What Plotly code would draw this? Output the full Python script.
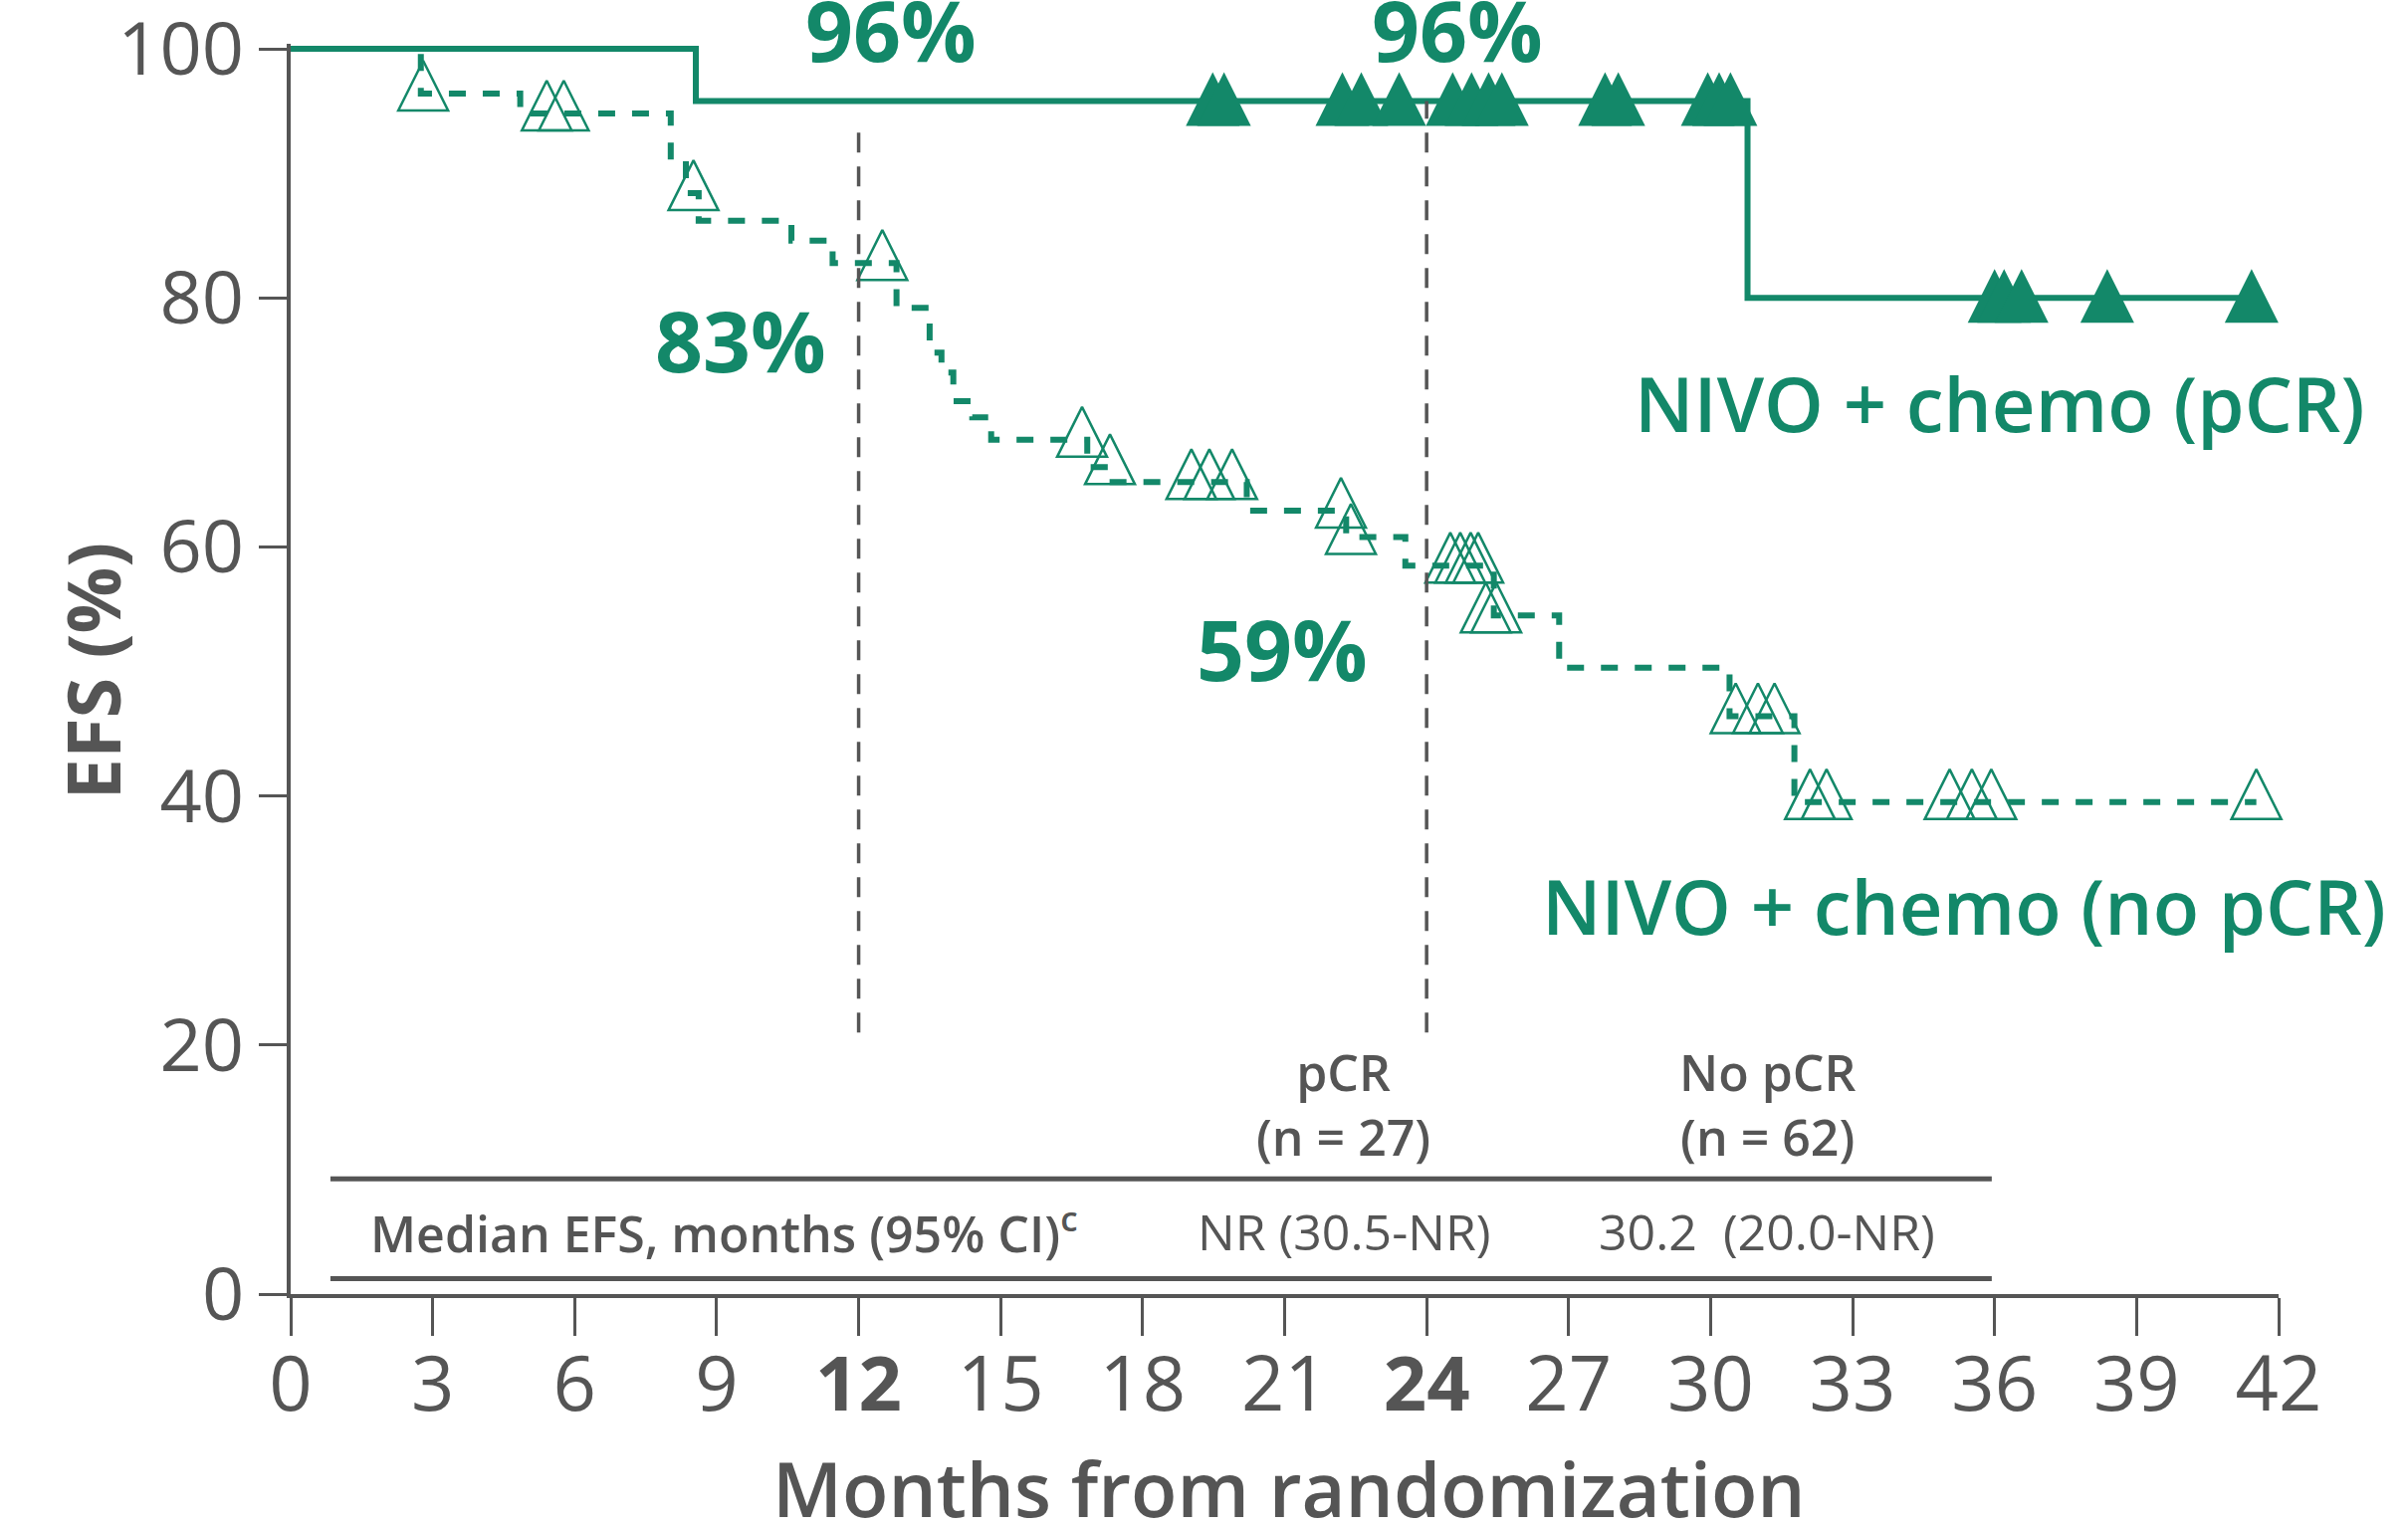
import plotly.graph_objects as go

GREEN = "#138869"
GRAY = "#555555"
FONT = "Open Sans"

# ---- data ----
# NIVO + chemo (pCR): Kaplan-Meier step points
pcr_time = [0, 8.56, 30.78, 41.6]
pcr_surv = [100, 95.8, 80.0, 80.0]
pcr_cens_time = [19.48, 19.72, 22.22, 22.62, 23.42, 24.55, 24.95, 25.31, 25.59,
                 27.77, 28.05, 29.94, 30.18, 30.42, 36.0, 36.2, 36.57, 38.38, 41.43]
pcr_cens_surv = [95.8, 95.8, 95.8, 95.8, 95.8, 95.8, 95.8, 95.8, 95.8,
                 95.8, 95.8, 95.8, 95.8, 95.8, 80.0, 80.0, 80.0, 80.0, 80.0]

# NIVO + chemo (no pCR)
nopcr_time = [0, 2.75, 4.85, 8.03, 8.35, 8.62, 10.58, 11.45, 12.8, 13.5, 13.75, 14.0,
              14.4, 14.8, 16.83, 17.2, 20.2, 22.3, 23.55, 25.42, 26.8, 30.4, 31.77, 41.53]
nopcr_surv = [100, 96.4, 94.8, 91.0, 88.4, 86.2, 84.6, 82.8, 79.2, 75.6, 74.0, 71.7,
              70.4, 68.6, 66.4, 65.2, 62.9, 60.8, 58.5, 54.5, 50.3, 46.4, 39.5, 39.5]
nopcr_cens_time = [2.8, 5.41, 5.77, 8.51, 12.5, 16.72, 17.31, 19.03, 19.41, 19.89,
                   22.19, 22.4, 24.5, 24.71, 24.93, 25.09, 25.25, 25.47, 30.53, 31.0,
                   31.35, 32.1, 32.45, 35.05, 35.52, 35.93, 41.53]
nopcr_cens_surv = [96.4, 94.8, 94.8, 88.4, 82.8, 68.6, 66.4, 65.2, 65.2, 65.2,
                   62.9, 60.8, 58.5, 58.5, 58.5, 58.5, 54.5, 54.5, 46.4, 46.4,
                   46.4, 39.5, 39.5, 39.5, 39.5, 39.5, 39.5]

# landmark reference lines
landmark_month = [12, 24]
landmark_top = [94.2, 95.8]
landmark_bottom = [21, 21]
# landmark rates inside the plot
rate_labels = ["83%", "59%"]
rate_x = [9.5, 20.95]
rate_y = [76.6, 51.8]
# landmark rates above the plot top
top_rate_labels = ["96%", "96%"]
top_rate_x = [12.68, 24.65]

# arm labels
arm_labels = ["NIVO + chemo (pCR)", "NIVO + chemo (no pCR)"]
arm_label_x = [36.1, 35.35]
arm_label_y = [71.6, 31.2]

# x ticks
x_ticks = [0, 3, 6, 9, 12, 15, 18, 21, 24, 27, 30, 33, 36, 39, 42]
x_ticktext = ["0", "3", "6", "9", "<b>12</b>", "15", "18", "21", "<b>24</b>",
              "27", "30", "33", "36", "39", "42"]
y_ticks = [0, 20, 40, 60, 80, 100]

# summary table
table_cols = ["pCR<br>(n = 27)", "No pCR<br>(n = 62)"]
table_col_x = [22.25, 31.2]
table_median = ["NR (30.5-NR)", "30.2  (20.0-NR)"]
table_row_label = "Median EFS, months (95% CI)<sup>c</sup>"
table_line_y = [9.25, 1.23]
table_line_x = [0.84, 35.94]

fig = go.Figure()

# curves
fig.add_trace(go.Scatter(x=nopcr_time, y=nopcr_surv, mode="lines", line_shape="hv",
                         line=dict(color=GREEN, width=6, dash="17px,17px"),
                         hoverinfo="skip", showlegend=False))
fig.add_trace(go.Scatter(x=pcr_time, y=pcr_surv, mode="lines", line_shape="hv",
                         line=dict(color=GREEN, width=6),
                         hoverinfo="skip", showlegend=False))

# censor marks (upward triangles)
fig.add_trace(go.Scatter(x=nopcr_cens_time, y=nopcr_cens_surv, mode="markers",
                         marker=dict(symbol="arrow-down-open", angle=180, standoff=33,
                                     size=50, color=GREEN, line=dict(color=GREEN, width=2.5)),
                         cliponaxis=False, hoverinfo="skip", showlegend=False))
fig.add_trace(go.Scatter(x=pcr_cens_time, y=pcr_cens_surv, mode="markers",
                         marker=dict(symbol="arrow-down", angle=180, standoff=29,
                                     size=54, color=GREEN, line=dict(width=0)),
                         cliponaxis=False, hoverinfo="skip", showlegend=False))

shapes = []
for m, t, b in zip(landmark_month, landmark_top, landmark_bottom):
    shapes.append(dict(type="line", xref="x", yref="y", x0=m, x1=m, y0=b, y1=t,
                       line=dict(color=GRAY, width=3.5, dash="20px,14px")))
for yv in table_line_y:
    shapes.append(dict(type="line", xref="x", yref="y", x0=table_line_x[0],
                       x1=table_line_x[1], y0=yv, y1=yv,
                       line=dict(color=GRAY, width=5)))

annotations = []
for txt, x, y in zip(rate_labels, rate_x, rate_y):
    annotations.append(dict(x=x, y=y, xref="x", yref="y", text=txt, showarrow=False,
                            xanchor="center", yanchor="middle",
                            font=dict(family=FONT, size=84, color=GREEN, weight="bold")))
for txt, x in zip(top_rate_labels, top_rate_x):
    annotations.append(dict(x=x, y=1, xref="x", yref="paper", text=txt, showarrow=False,
                            xanchor="center", yanchor="middle", yshift=15,
                            font=dict(family=FONT, size=84, color=GREEN, weight="bold")))
for txt, x, y in zip(arm_labels, arm_label_x, arm_label_y):
    annotations.append(dict(x=x, y=y, xref="x", yref="y", text=txt, showarrow=False,
                            xanchor="center", yanchor="middle",
                            font=dict(family=FONT, size=76, color=GREEN, weight=600)))
for txt, x in zip(table_cols, table_col_x):
    annotations.append(dict(x=x, y=15.2, xref="x", yref="y", text=txt, showarrow=False,
                            xanchor="center", yanchor="middle",
                            font=dict(family=FONT, size=50, color=GRAY, weight=600)))
for txt, x in zip(table_median, table_col_x):
    annotations.append(dict(x=x, y=5.05, xref="x", yref="y", text=txt, showarrow=False,
                            xanchor="center", yanchor="middle",
                            font=dict(family=FONT, size=50, color=GRAY)))
annotations.append(dict(x=1.65, y=5.05, xref="x", yref="y", text=table_row_label,
                        showarrow=False, xanchor="left", yanchor="middle",
                        font=dict(family=FONT, size=50, color=GRAY, weight=600)))
# axis titles
annotations.append(dict(x=21.1, y=0, xref="x", yref="paper", text="Months from randomization",
                        showarrow=False, xanchor="center", yanchor="middle", yshift=-194,
                        font=dict(family=FONT, size=76, color=GRAY, weight=600)))
annotations.append(dict(x=0, y=50, xref="paper", yref="y", text="EFS (%)", textangle=-90,
                        showarrow=False, xanchor="center", yanchor="middle", xshift=-200,
                        font=dict(family=FONT, size=74, color=GRAY, weight="bold")))

fig.update_layout(
    width=2419, height=1534,
    margin=dict(l=292, r=130, t=44, b=234),
    paper_bgcolor="white", plot_bgcolor="white",
    shapes=shapes, annotations=annotations,
    xaxis=dict(range=[0, 42], tickvals=x_ticks, ticktext=x_ticktext, automargin=False,
               showgrid=False, zeroline=False, showline=True, linecolor=GRAY, linewidth=4,
               ticks="outside", ticklen=38, tickwidth=2.5, tickcolor=GRAY,
               ticklabelstandoff=-16, ticklabeloverflow="allow",
               tickfont=dict(family=FONT, size=76, color=GRAY)),
    yaxis=dict(range=[0, 100.4], tickvals=y_ticks, automargin=False,
               showgrid=False, zeroline=False, showline=True, linecolor=GRAY, linewidth=4,
               ticks="outside", ticklen=28, tickwidth=2.5, tickcolor=GRAY,
               ticklabeloverflow="allow",
               tickfont=dict(family=FONT, size=74, color=GRAY)),
)

fig.write_html("out.html")
